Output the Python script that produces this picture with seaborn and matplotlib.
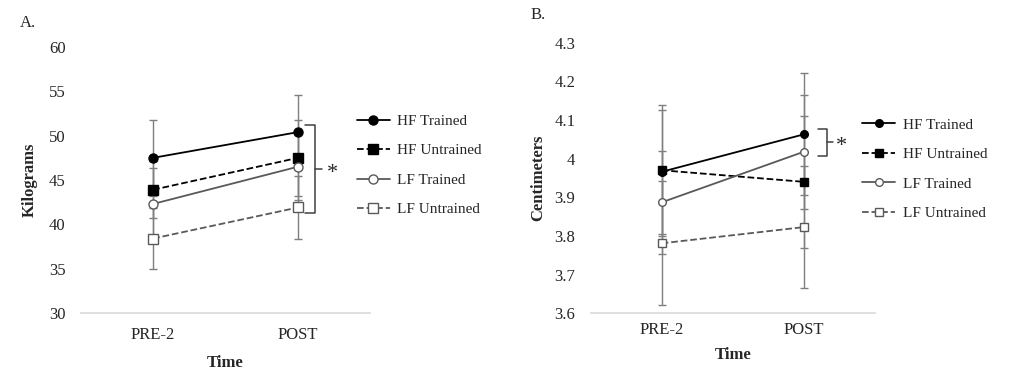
import numpy as np
import pandas as pd
import seaborn as sns
import matplotlib.pyplot as plt
from matplotlib.lines import Line2D
plt.switch_backend('agg')

# data
times = ['PRE-2', 'POST']
groups = ['HF Trained', 'HF Untrained', 'LF Trained', 'LF Untrained']

kg_mean = {'HF Trained': [47.5, 50.4], 'HF Untrained': [43.9, 47.5],
           'LF Trained': [42.3, 46.5], 'LF Untrained': [38.4, 41.9]}
kg_sd = {'HF Trained': [4.3, 4.2], 'HF Untrained': [3.2, 4.3],
         'LF Trained': [4.1, 3.8], 'LF Untrained': [3.4, 3.5]}

cm_mean = {'HF Trained': [3.966, 4.063], 'HF Untrained': [3.970, 3.940],
           'LF Trained': [3.887, 4.018], 'LF Untrained': [3.781, 3.823]}
cm_sd = {'HF Trained': [0.160, 0.158], 'HF Untrained': [0.170, 0.170],
         'LF Trained': [0.133, 0.147], 'LF Untrained': [0.160, 0.158]}

styles = {'HF Trained': dict(color='black', ls='-', marker='o', mfc='black'),
          'HF Untrained': dict(color='black', ls='--', marker='s', mfc='black'),
          'LF Trained': dict(color='#595959', ls='-', marker='o', mfc='white'),
          'LF Untrained': dict(color='#595959', ls='--', marker='s', mfc='white')}

sns.set_style('white')
plt.rcParams['font.family'] = ['Liberation Serif', 'DejaVu Serif']
plt.rcParams['font.size'] = 12


def build_df(means):
    rows = []
    for g in groups:
        for i, t in enumerate(times):
            rows.append({'group': g, 'x': i, 'value': means[g][i]})
    return pd.DataFrame(rows)


def draw_panel(ax, means, sds, ylim, yticks, ytl, ylabel, ms, xpad, lpad):
    df = build_df(means)
    for g in groups:
        st = styles[g]
        d = df[df['group'] == g]
        ax.errorbar(d['x'], d['value'], yerr=sds[g], fmt='none', ecolor='#7f7f7f',
                    elinewidth=1.0, capsize=3, capthick=1.0, zorder=1)
        sns.lineplot(data=d, x='x', y='value', ax=ax, color=st['color'], linestyle=st['ls'],
                     lw=1.3, marker=st['marker'], markersize=ms, markerfacecolor=st['mfc'],
                     markeredgecolor=st['color'], markeredgewidth=1.0, zorder=3)
    ax.set_xlim(-0.5, 1.5)
    ax.set_ylim(*ylim)
    ax.set_yticks(yticks)
    ax.set_yticklabels(ytl)
    ax.set_xticks([0, 1])
    ax.set_xticklabels(times)
    ax.tick_params(axis='both', length=0, labelsize=12)
    ax.tick_params(axis='y', pad=11)
    ax.tick_params(axis='x', pad=xpad)
    sns.despine(ax=ax, left=True)
    ax.spines['bottom'].set_color('#d9d9d9')
    ax.spines['bottom'].set_linewidth(1.2)
    ax.set_xlabel('Time', fontweight='bold', fontsize=12, labelpad=lpad)
    ax.set_ylabel(ylabel, fontweight='bold', fontsize=12)


def legend_handles(ms):
    hs = []
    for g in groups:
        st = styles[g]
        hs.append(Line2D([], [], color=st['color'], ls=st['ls'], lw=1.3, marker=st['marker'],
                         markersize=ms, markerfacecolor=st['mfc'], markeredgecolor=st['color']))
    return hs


fig = plt.figure(figsize=(10.24, 3.76), dpi=100)
axA = fig.add_axes([0.0788, 0.1676, 0.283, 0.7074])
axB = fig.add_axes([0.5767, 0.1668, 0.278, 0.7197])

draw_panel(axA, kg_mean, kg_sd, (30, 60), [30, 35, 40, 45, 50, 55, 60],
           ['30', '35', '40', '45', '50', '55', '60'], 'Kilograms', 6.5, 10, 9)
draw_panel(axB, cm_mean, cm_sd, (3.6, 4.3), [3.6, 3.7, 3.8, 3.9, 4.0, 4.1, 4.2, 4.3],
           ['3.6', '3.7', '3.8', '3.9', '4', '4.1', '4.2', '4.3'], 'Centimeters', 5.5, 6, 7)
axA.yaxis.set_label_coords(-0.147, 0.5)
axB.yaxis.set_label_coords(-0.154, 0.5)

# significance brackets
axA.plot([1.048, 1.117, 1.117, 1.048], [51.2, 51.2, 41.3, 41.3], color='#404040', lw=1.1, clip_on=False)
axA.plot([1.117, 1.166], [46.25, 46.25], color='#404040', lw=1.1, clip_on=False)
axA.text(1.24, 45.7, '*', ha='center', va='center', fontsize=16)
axB.plot([1.098, 1.162, 1.162, 1.098], [4.077, 4.077, 4.007, 4.007], color='#404040', lw=1.1, clip_on=False)
axB.plot([1.162, 1.204], [4.042, 4.042], color='#404040', lw=1.1, clip_on=False)
axB.text(1.26, 4.031, '*', ha='center', va='center', fontsize=16)

for ax, x0, y0, ms in [(axA, 0.3486, 0.696, 6.5), (axB, 0.842, 0.686, 5.5)]:
    ax.legend(legend_handles(ms), groups, loc='upper left', bbox_to_anchor=(x0, y0),
              bbox_transform=fig.transFigure, frameon=False, fontsize=11, borderpad=0,
              borderaxespad=0, handlelength=2.15, handletextpad=0.5, labelspacing=1.03)

fig.text(0.0195, 0.94, 'A.', fontsize=12, va='center')
fig.text(0.5176, 0.96, 'B.', fontsize=12, va='center')

fig.savefig('out.png', dpi=100, facecolor='white')
